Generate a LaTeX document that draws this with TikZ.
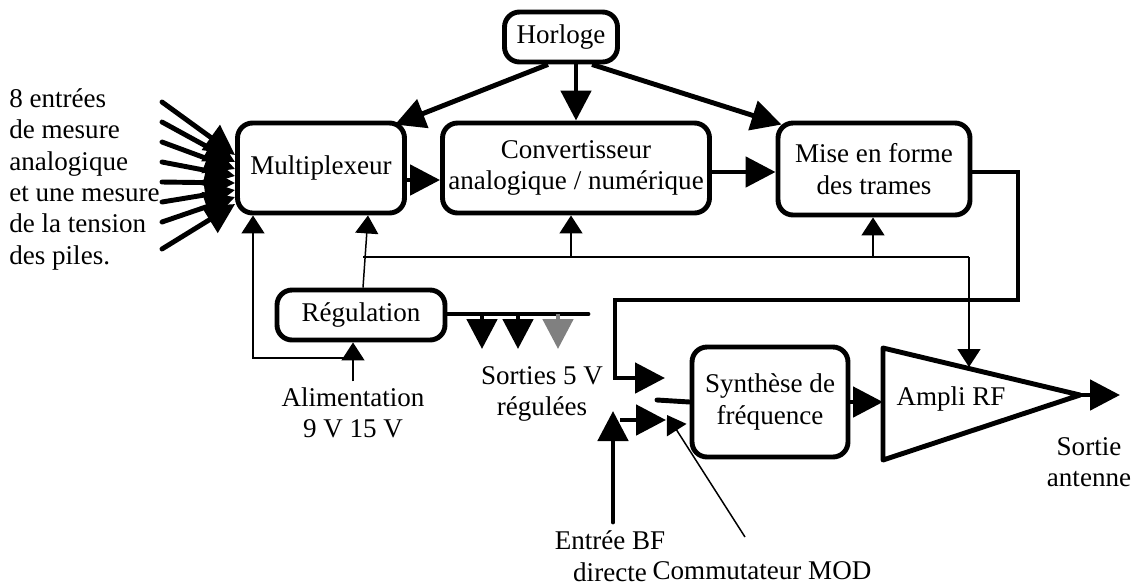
\documentclass[tikz,border=0pt]{standalone}
\usepackage{fontspec}
\setmainfont{Liberation Serif}
\usetikzlibrary{arrows.meta}

\begin{document}
\begin{tikzpicture}[x=0.02cm, y=-0.02cm,
    font=\fontsize{15.4}{17.9}\selectfont,
    box/.style={draw, line width=2.8pt, rounded corners=0.3cm, inner sep=0pt, align=center},
    big/.style={line width=2.8pt, -{Triangle[length=0.6cm, width=0.6cm]}},
    thin/.style={line width=0.85pt, -{Triangle[length=0.36cm, width=0.46cm]}}]
    \useasboundingbox (0,0) rectangle (1145,586);

    % blocs
    \node[box, minimum width=2.26cm, minimum height=1cm] (clk) at (561,37) {Horloge};
    \node[box, minimum width=3.34cm, minimum height=1.8cm] (mux) at (321,168) {\raisebox{3.4pt}{Multiplexeur}};
    \node[box, minimum width=5.34cm, minimum height=1.8cm] (adc) at (576,168) {Convertisseur\\analogique / numérique};
    \node[box, minimum width=3.84cm, minimum height=1.84cm] (mise) at (874,169) {Mise en forme\\des trames};
    \node[box, minimum width=3.36cm, minimum height=1cm] (reg) at (361,315) {Régulation};
    \node[box, minimum width=3.12cm, minimum height=2.2cm] (synth) at (770,402) {Synthèse de\\fréquence};

    % ampli
    \coordinate (a1) at (883,348);
    \coordinate (a2) at (883,460);
    \coordinate (a3) at (1080,395);
    \draw[line width=2.8pt, line join=round, line cap=round] (a1) -- (a3) -- (a2) -- cycle;
    \node (amp) at (951,399) {Ampli RF};
    \coordinate (ant) at (1120,395);

    % textes
    \node[align=left, anchor=north west, inner sep=0pt] (inp) at (9,88) {8 entrées\\de mesure\\analogique\\et une mesure\\de la tension\\des piles.};
    \node[align=center] (alim) at (353,413) {Alimentation\\9 V 15 V};
    \node[align=center] (sort) at (542,394) {Sorties 5 V\\régulées};
    \node[align=center, inner sep=1pt] (bf) at (610,556) {Entrée BF\\directe};
    \node[inner sep=1pt] (mod) at (762,571) {Commutateur MOD};
    \node[align=center] (sant) at (1089,462) {Sortie\\antenne};

    % entrees
    \foreach \ya/\yb in {102/155,122/162,142/169,162/176,182/183,202/190,222/197,249/204}
        \draw[big, line cap=round] (162,\ya) -- (mux.west |- 0,\yb);

    % horloge
    \draw[big] (clk.south -| 548,0) -- ([shift={(-12,4)}]mux.north east);
    \draw[big] (clk.south -| adc.north) -- (adc.north);
    \draw[big] (clk.south -| 592,0) -- ([shift={(6,4)}]mise.north west);

    % chaine
    \draw[big] (mux.east |- 0,180) -- (adc.west |- 0,180);
    \draw[big] (adc.east |- 0,172) -- (mise.west |- 0,172);
    \draw[big] (mise.east |- 0,172) -- (1018,172) -- (1018,300) -- (615,300) -- (615,378) -- (665,378);
    \draw[big] (synth.east) -- (a1 |- synth.east);
    \draw[big] (a3) -- (ant);

    % alimentation
    \draw[thin] (alim.north) -- (reg.south -| alim.north);
    \draw[thin] (355,358) -- (253,358) -- (mux.south -| 253,0);
    \draw[thin] (reg.north -| 363,0) -- (mux.south -| 368,0);
    \draw[line width=0.85pt] (363,257) -- (969,257);
    \draw[thin] (571,257) -- (adc.south -| 571,0);
    \draw[thin] (873,257) -- (mise.south -| 873,0);
    \draw[thin] (969,257) -- (969,367);

    % sorties regulees
    \draw[line width=2.8pt, line cap=round] (reg.east |- 0,314) -- (588,314);
    \draw[big] (482,314) -- (482,349);
    \draw[big] (518,314) -- (518,349);
    \draw[big, gray] (558,314) -- (558,349);

    % modulation
    \draw[big, line cap=round] (613,522) -- (613,411);
    \draw[big] (620,420) -- (666,420);
    \draw[line width=2.8pt, line cap=round] (657,400) -- (synth.west);
    \draw[thin] (745,537) -- (667,415);
\end{tikzpicture}
\end{document}
